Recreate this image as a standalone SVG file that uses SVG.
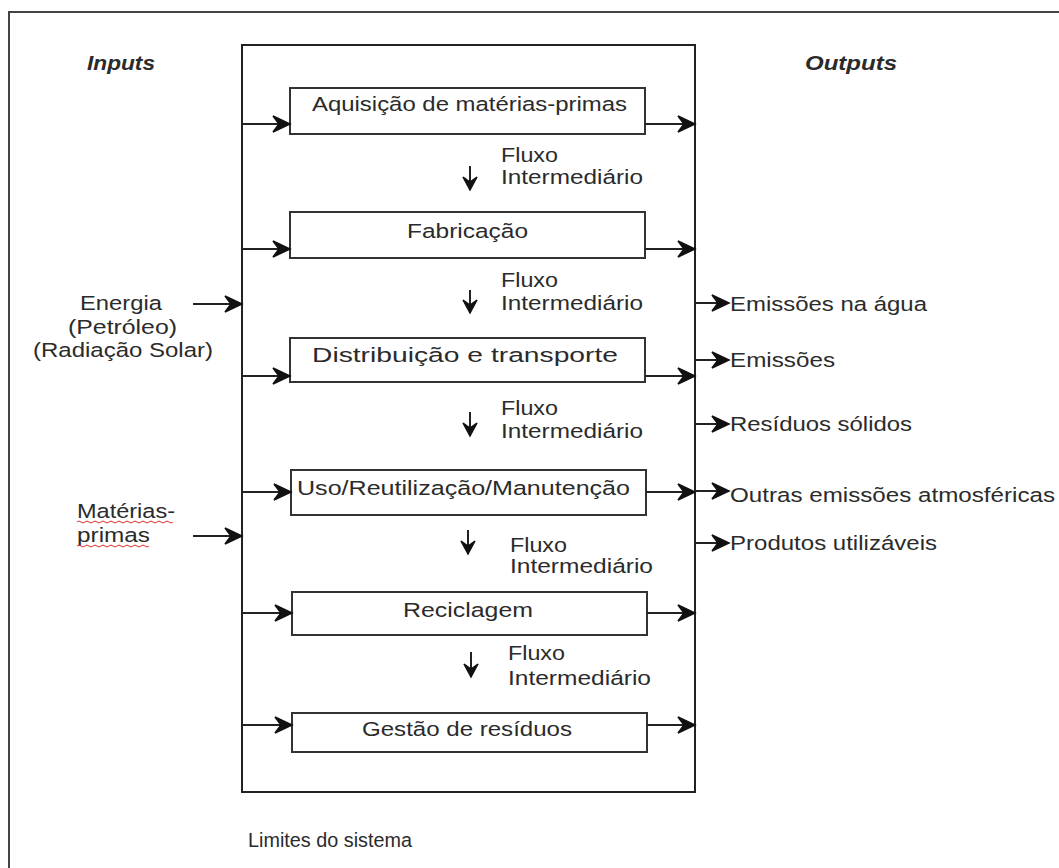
<svg xmlns="http://www.w3.org/2000/svg" width="1059" height="868" viewBox="0 0 1059 868">
<style>
  .t{font-family:"Liberation Sans",Arial,sans-serif;font-size:20.5px;fill:#2b2b2b;}
  .h{font-family:"Liberation Sans",Arial,sans-serif;font-size:20.5px;font-weight:bold;font-style:italic;fill:#2b2b2b;}
  .box{fill:#fff;stroke:#333;stroke-width:2;}
  .ha{stroke:#222;stroke-width:2;fill:none;marker-end:url(#ah);}
  .va{stroke:#222;stroke-width:2;fill:none;marker-end:url(#av);}
</style>
<defs>
  <marker id="ah" markerUnits="userSpaceOnUse" markerWidth="20" markerHeight="18" refX="18" refY="9" orient="auto" viewBox="0 0 20 18">
    <path d="M1,1 L18,9 L1,17 L7,9 z" fill="#111" stroke="#111" stroke-width="1.5" stroke-linejoin="miter"/>
  </marker>
  <marker id="av" markerUnits="userSpaceOnUse" markerWidth="16" markerHeight="16" refX="14" refY="8" orient="auto" viewBox="0 0 16 16">
    <path d="M1,1 L14,8 L1,15 L6,8 z" fill="#111" stroke="#111" stroke-width="1.5"/>
  </marker>
</defs>
<rect width="1059" height="868" fill="#fff"/>
<rect x="9" y="12" width="1100" height="900" fill="none" stroke="#444" stroke-width="2"/>
<g id="labels-headers">
  <text class="h" x="87" y="70" textLength="68" lengthAdjust="spacingAndGlyphs">Inputs</text>
  <text class="h" x="805" y="70" textLength="92" lengthAdjust="spacingAndGlyphs">Outputs</text>
</g>
<g id="system-boundary">
  <rect x="242" y="45" width="453" height="747" fill="none" stroke="#222" stroke-width="2"/>
  <text class="t" x="248" y="847" textLength="164" lengthAdjust="spacingAndGlyphs">Limites do sistema</text>
</g>
<g id="node-aquisicao">
  <rect class="box" x="290" y="88" width="355" height="46"/>
  <text class="t" x="312" y="111" textLength="315" lengthAdjust="spacingAndGlyphs">Aquisição de matérias-primas</text>
</g>
<g id="node-fabricacao">
  <rect class="box" x="290" y="212" width="355" height="46"/>
  <text class="t" x="407" y="238" textLength="121" lengthAdjust="spacingAndGlyphs">Fabricação</text>
</g>
<g id="node-distribuicao">
  <rect class="box" x="290" y="338" width="355" height="44"/>
  <text class="t" x="312" y="362" textLength="306" lengthAdjust="spacingAndGlyphs">Distribuição e transporte</text>
</g>
<g id="node-uso">
  <rect class="box" x="291" y="470" width="355" height="45"/>
  <text class="t" x="297" y="495" textLength="333" lengthAdjust="spacingAndGlyphs">Uso/Reutilização/Manutenção</text>
</g>
<g id="node-reciclagem">
  <rect class="box" x="292" y="592" width="355" height="43"/>
  <text class="t" x="403" y="617" textLength="130" lengthAdjust="spacingAndGlyphs">Reciclagem</text>
</g>
<g id="node-gestao">
  <rect class="box" x="292" y="713" width="355" height="39"/>
  <text class="t" x="362" y="736" textLength="210" lengthAdjust="spacingAndGlyphs">Gestão de resíduos</text>
</g>
<g id="node-energia">
  <text class="t" x="80" y="310" textLength="82" lengthAdjust="spacingAndGlyphs">Energia</text>
  <text class="t" x="68" y="334" textLength="109" lengthAdjust="spacingAndGlyphs">(Petróleo)</text>
  <text class="t" x="33" y="357" textLength="180" lengthAdjust="spacingAndGlyphs">(Radiação Solar)</text>
</g>
<g id="node-materias">
  <text class="t" x="77" y="518" textLength="98" lengthAdjust="spacingAndGlyphs">Matérias-</text>
  <text class="t" x="77" y="542" textLength="73" lengthAdjust="spacingAndGlyphs">primas</text>
  <path d="M77,522 q2,-2 4,0 t4,0 t4,0 t4,0 t4,0 t4,0 t4,0 t4,0 t4,0 t4,0 t4,0 t4,0 t4,0 t4,0 t4,0 t4,0 t4,0 t4,0 t4,0 t4,0 t4,0 t4,0 t4,0 t4,0" fill="none" stroke="#e03030" stroke-width="1"/>
  <path d="M77,546 q2,-2 4,0 t4,0 t4,0 t4,0 t4,0 t4,0 t4,0 t4,0 t4,0 t4,0 t4,0 t4,0 t4,0 t4,0 t4,0 t4,0 t4,0 t4,0" fill="none" stroke="#e03030" stroke-width="1"/>
</g>
<g id="node-outputs">
  <text class="t" x="730" y="311" textLength="197" lengthAdjust="spacingAndGlyphs">Emissões na água</text>
  <text class="t" x="730" y="367" textLength="105" lengthAdjust="spacingAndGlyphs">Emissões</text>
  <text class="t" x="730" y="431" textLength="182" lengthAdjust="spacingAndGlyphs">Resíduos sólidos</text>
  <text class="t" x="730" y="502" textLength="325" lengthAdjust="spacingAndGlyphs">Outras emissões atmosféricas</text>
  <text class="t" x="730" y="550" textLength="207" lengthAdjust="spacingAndGlyphs">Produtos utilizáveis</text>
</g>
<g id="flow-labels">
  <text class="t" x="501" y="162" textLength="57" lengthAdjust="spacingAndGlyphs">Fluxo</text>
  <text class="t" x="501" y="184" textLength="142" lengthAdjust="spacingAndGlyphs">Intermediário</text>
  <text class="t" x="501" y="287" textLength="57" lengthAdjust="spacingAndGlyphs">Fluxo</text>
  <text class="t" x="501" y="310" textLength="142" lengthAdjust="spacingAndGlyphs">Intermediário</text>
  <text class="t" x="501" y="415" textLength="57" lengthAdjust="spacingAndGlyphs">Fluxo</text>
  <text class="t" x="501" y="438" textLength="142" lengthAdjust="spacingAndGlyphs">Intermediário</text>
  <text class="t" x="510" y="552" textLength="57" lengthAdjust="spacingAndGlyphs">Fluxo</text>
  <text class="t" x="510" y="573" textLength="143" lengthAdjust="spacingAndGlyphs">Intermediário</text>
  <text class="t" x="508" y="660" textLength="57" lengthAdjust="spacingAndGlyphs">Fluxo</text>
  <text class="t" x="508" y="685" textLength="143" lengthAdjust="spacingAndGlyphs">Intermediário</text>
</g>
<g id="connectors">
  <line class="ha" x1="242" y1="124" x2="290" y2="124"/>
  <line class="ha" x1="242" y1="249" x2="290" y2="249"/>
  <line class="ha" x1="242" y1="376" x2="290" y2="376"/>
  <line class="ha" x1="242" y1="492" x2="291" y2="492"/>
  <line class="ha" x1="242" y1="613" x2="292" y2="613"/>
  <line class="ha" x1="242" y1="725" x2="292" y2="725"/>
  <line class="ha" x1="645" y1="124" x2="695" y2="124"/>
  <line class="ha" x1="645" y1="249" x2="695" y2="249"/>
  <line class="ha" x1="645" y1="376" x2="695" y2="376"/>
  <line class="ha" x1="646" y1="492" x2="695" y2="492"/>
  <line class="ha" x1="647" y1="613" x2="695" y2="613"/>
  <line class="ha" x1="647" y1="725" x2="695" y2="725"/>
  <line class="ha" x1="193" y1="304" x2="242" y2="304"/>
  <line class="ha" x1="193" y1="536" x2="242" y2="536"/>
  <line class="ha" x1="695" y1="303" x2="729" y2="303"/>
  <line class="ha" x1="695" y1="360" x2="729" y2="360"/>
  <line class="ha" x1="695" y1="424" x2="729" y2="424"/>
  <line class="ha" x1="695" y1="491" x2="729" y2="491"/>
  <line class="ha" x1="695" y1="543" x2="729" y2="543"/>
  <line class="va" x1="470" y1="166" x2="470" y2="190"/>
  <line class="va" x1="470" y1="290" x2="470" y2="313"/>
  <line class="va" x1="470" y1="412" x2="470" y2="436"/>
  <line class="va" x1="468" y1="530" x2="468" y2="554"/>
  <line class="va" x1="471" y1="652" x2="471" y2="677"/>
</g>
</svg>
